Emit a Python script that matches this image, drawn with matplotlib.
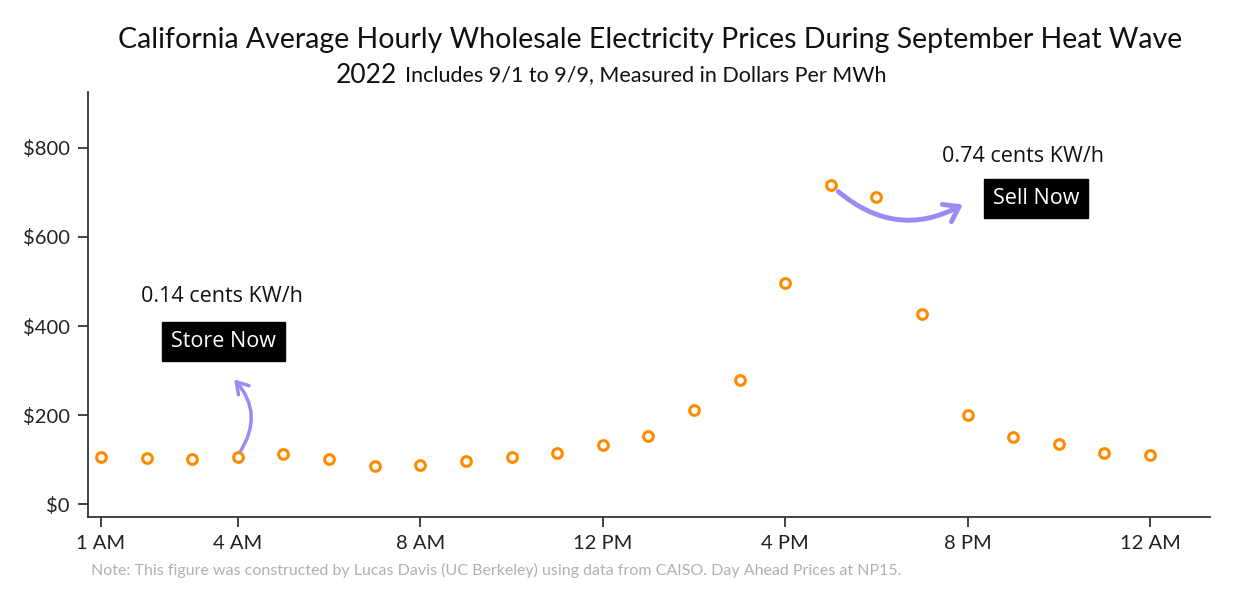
import numpy as np
import matplotlib.pyplot as plt
from matplotlib.patches import FancyArrowPatch

# --- datos ---
hours = list(range(1, 25))
prices = [105, 103, 101, 106, 112, 101, 85, 88, 97, 106, 115, 133,
          153, 211, 279, 497, 717, 690, 427, 200, 151, 135, 115, 110]
tick_hours = [1, 4, 8, 12, 16, 20, 24]
tick_labels = ["1 AM", "4 AM", "8 AM", "12 PM", "4 PM", "8 PM", "12 AM"]
y_ticks = [0, 200, 400, 600, 800]
y_labels = ["$0", "$200", "$400", "$600", "$800"]

ORANGE = "#ff8a00"
PURPLE = "#9b8af5"
plt.rcParams['font.family'] = ['Lato', 'DejaVu Sans']

fig = plt.figure(figsize=(12.4, 6.12), dpi=100)
ax = fig.add_axes([0.071, 0.155, 0.905, 0.695])

ax.plot(hours, prices, 'o', markersize=7, markerfacecolor='white',
        markeredgecolor=ORANGE, markeredgewidth=2.2, linestyle='none')

ax.set_xlim(0.715, 25.32)
ax.set_ylim(-29, 926)
ax.set_xticks(tick_hours)
ax.set_xticklabels(tick_labels, fontsize=14.5)
ax.set_yticks(y_ticks)
ax.set_yticklabels(y_labels, fontsize=14.5)
ax.tick_params(direction='out', length=7, width=1.2, colors='#222222', pad=6)
for side in ['top', 'right']:
    ax.spines[side].set_visible(False)
for side in ['left', 'bottom']:
    ax.spines[side].set_linewidth(1.3)
    ax.spines[side].set_color('#333333')

# --- títulos ---
fig.text(0.524, 0.934, "California Average Hourly Wholesale Electricity Prices During September Heat Wave",
         ha='center', va='center', fontsize=20.5, color='#111111')
fig.text(0.271, 0.877, "2022", ha='left', va='center', fontsize=19, color='#111111')
fig.text(0.327, 0.877, "Includes 9/1 to 9/9, Measured in Dollars Per MWh",
         ha='left', va='center', fontsize=15.5, color='#111111')
fig.text(0.073, 0.068, "Note: This figure was constructed by Lucas Davis (UC Berkeley) using data from CAISO. Day Ahead Prices at NP15.",
         ha='left', va='center', fontsize=11.5, color='#b0b0b0')

# --- anotaciones ---
ann_font = ['Open Sans', 'DejaVu Sans']
ax.text(3.64, 467, "0.14 cents KW/h", ha='center', va='center', fontsize=15.5,
        family=ann_font, color='#111111')
ax.text(3.68, 365, "Store Now", ha='center', va='center', fontsize=15.5,
        family=ann_font, color='white',
        bbox=dict(boxstyle='square,pad=0.42', facecolor='black', edgecolor='black'))
ax.text(21.22, 780, "0.74 cents KW/h", ha='center', va='center', fontsize=15.5,
        family=ann_font, color='#111111')
ax.text(21.5, 686, "Sell Now", ha='center', va='center', fontsize=15.5,
        family=ann_font, color='white',
        bbox=dict(boxstyle='square,pad=0.42', facecolor='black', edgecolor='black'))

store_arrow = FancyArrowPatch((4.0, 110), (3.88, 285),
                              connectionstyle='arc3,rad=0.4',
                              arrowstyle='->,head_length=8,head_width=5',
                              color=PURPLE, lw=2.5, mutation_scale=1)
ax.add_patch(store_arrow)
sell_arrow = FancyArrowPatch((17.12, 706), (19.95, 676),
                             connectionstyle='arc3,rad=0.35',
                             arrowstyle='->,head_length=10,head_width=7',
                             color=PURPLE, lw=3.5, mutation_scale=1)
ax.add_patch(sell_arrow)

fig.savefig("out.png", dpi=100, facecolor='white')
